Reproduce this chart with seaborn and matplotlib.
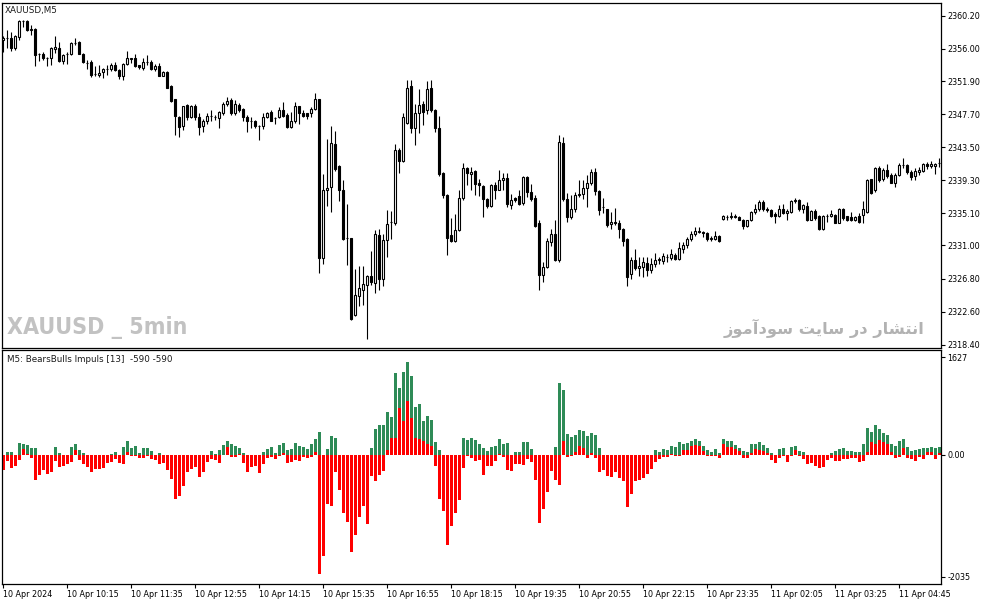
import os
import numpy as np
import pandas as pd
import matplotlib
matplotlib.use("Agg")
import matplotlib.pyplot as plt
from matplotlib import font_manager as fm
import seaborn as sns

# ---------------- data (XAUUSD M5 candles) ----------------
opens = [
 2357.2, 2357.4, 2357.4, 2356.1, 2357.5, 2359.6, 2359.6, 2358.4, 2358.6, 2355.3,
 2355.4, 2354.8, 2354.8, 2356.0, 2356.1, 2354.5, 2355.3, 2355.3, 2356.8, 2356.9,
 2355.4, 2354.2, 2354.3, 2352.8, 2352.7, 2353.1, 2353.5, 2353.4, 2353.9, 2353.3,
 2352.5, 2354.1, 2354.7, 2354.8, 2353.9, 2353.6, 2354.3, 2354.4, 2353.5, 2353.8,
 2352.6, 2353.1, 2351.3, 2349.6, 2347.4, 2346.2, 2348.9, 2347.4, 2348.7, 2347.4,
 2346.2, 2346.9, 2347.5, 2347.4, 2347.2, 2347.9, 2349.0, 2349.5, 2347.8, 2348.9,
 2348.4, 2347.4, 2346.9, 2346.9, 2346.2, 2346.2, 2347.3, 2348.0, 2347.2, 2347.3,
 2348.3, 2347.6, 2346.1, 2346.8, 2348.7, 2347.8, 2347.8, 2347.9, 2348.4, 2349.6,
 2329.4, 2338.0, 2338.4, 2343.9, 2341.1, 2338.1, 2331.9, 2331.9, 2322.2, 2324.6,
 2325.4, 2326.0, 2327.1, 2326.2, 2332.3, 2326.8, 2331.7, 2334.0, 2333.8, 2343.2,
 2341.8, 2346.6, 2351.3, 2345.9, 2347.8, 2349.0, 2348.2, 2351.0, 2348.2, 2346.0,
 2340.2, 2337.4, 2332.3, 2331.6, 2333.0, 2337.0, 2340.9, 2340.1, 2340.5, 2339.0,
 2338.6, 2336.9, 2336.0, 2338.7, 2338.1, 2339.3, 2339.6, 2336.2, 2337.1, 2337.3,
 2336.4, 2339.7, 2337.8, 2337.0, 2333.8, 2327.2, 2328.3, 2331.5, 2332.5, 2329.1,
 2344.1, 2336.9, 2334.6, 2335.6, 2337.4, 2337.5, 2338.3, 2338.9, 2340.3, 2337.9,
 2335.9, 2335.6, 2333.7, 2334.0, 2333.8, 2333.1, 2331.8, 2327.4, 2329.1, 2328.1,
 2328.3, 2328.8, 2327.9, 2328.7, 2329.2, 2329.0, 2329.6, 2329.4, 2329.8, 2329.3,
 2330.6, 2331.0, 2331.8, 2332.4, 2332.7, 2332.7, 2332.6, 2331.8, 2331.8, 2332.2,
 2334.4, 2334.6, 2334.6, 2334.8, 2334.6, 2334.3, 2333.5, 2334.2, 2335.2, 2335.6,
 2336.5, 2335.7, 2335.5, 2335.0, 2334.8, 2335.6, 2335.1, 2335.3, 2336.6, 2336.8,
 2335.6, 2336.0, 2334.3, 2335.4, 2334.8, 2333.1, 2334.7, 2334.8, 2334.9, 2333.9,
 2335.7, 2334.7, 2334.6, 2334.3, 2334.7, 2334.9, 2335.3, 2339.4, 2338.0, 2340.8,
 2339.4, 2340.6, 2340.0, 2338.9, 2340.0, 2341.2, 2341.2, 2340.4, 2339.8, 2340.4,
 2340.5, 2341.4, 2341.1, 2341.1, 2341.5]

highs = [
 2357.6, 2358.4, 2358.2, 2357.8, 2359.7, 2359.7, 2359.7, 2359.0, 2358.7, 2355.5,
 2355.6, 2355.0, 2356.2, 2357.7, 2356.9, 2355.3, 2355.6, 2356.9, 2357.4, 2357.0,
 2355.5, 2354.6, 2354.6, 2353.8, 2354.0, 2353.6, 2353.9, 2354.2, 2354.3, 2353.4,
 2354.2, 2355.8, 2354.9, 2355.3, 2354.0, 2354.8, 2355.2, 2354.6, 2354.1, 2354.2,
 2353.2, 2353.2, 2351.4, 2349.7, 2347.5, 2348.8, 2349.0, 2348.9, 2349.0, 2347.8,
 2347.1, 2347.9, 2348.2, 2347.6, 2348.1, 2349.2, 2349.9, 2349.8, 2349.5, 2349.1,
 2348.5, 2347.6, 2347.4, 2347.0, 2346.3, 2347.8, 2348.0, 2348.3, 2347.4, 2348.6,
 2349.2, 2347.8, 2348.0, 2349.2, 2348.8, 2348.2, 2347.9, 2348.6, 2350.4, 2349.7,
 2340.1, 2344.6, 2346.2, 2345.6, 2341.2, 2339.3, 2336.3, 2332.0, 2328.0, 2328.4,
 2328.4, 2327.2, 2330.3, 2333.0, 2333.1, 2332.5, 2335.5, 2335.4, 2343.9, 2343.4,
 2347.9, 2352.1, 2352.0, 2349.0, 2350.9, 2349.4, 2351.9, 2352.1, 2348.4, 2347.5,
 2340.3, 2337.6, 2334.5, 2335.0, 2338.0, 2341.5, 2341.0, 2341.0, 2340.6, 2339.5,
 2338.7, 2337.0, 2338.8, 2339.1, 2340.6, 2340.2, 2340.2, 2337.6, 2337.2, 2338.1,
 2339.8, 2339.8, 2338.8, 2337.4, 2334.3, 2328.9, 2331.9, 2333.1, 2334.2, 2345.1,
 2344.8, 2337.7, 2337.4, 2337.8, 2339.3, 2339.3, 2340.0, 2340.7, 2340.8, 2338.0,
 2337.0, 2335.7, 2335.3, 2335.8, 2334.3, 2333.2, 2332.0, 2329.6, 2330.6, 2329.5,
 2329.5, 2329.5, 2329.4, 2330.1, 2329.5, 2330.0, 2329.9, 2330.5, 2330.0, 2331.4,
 2331.5, 2332.1, 2332.9, 2333.4, 2333.4, 2332.9, 2332.7, 2332.2, 2332.8, 2332.3,
 2334.9, 2334.9, 2335.2, 2335.0, 2334.8, 2334.4, 2334.3, 2335.4, 2336.3, 2336.8,
 2336.8, 2335.9, 2335.6, 2335.3, 2336.2, 2336.3, 2335.6, 2336.8, 2337.1, 2336.9,
 2336.3, 2336.5, 2335.5, 2335.6, 2334.9, 2334.9, 2335.0, 2335.5, 2335.0, 2335.8,
 2335.8, 2334.8, 2335.2, 2334.8, 2335.1, 2336.6, 2339.4, 2339.5, 2341.0, 2341.1,
 2340.8, 2341.4, 2340.2, 2340.2, 2341.5, 2342.1, 2341.4, 2340.6, 2340.8, 2341.0,
 2341.5, 2341.6, 2341.7, 2341.5, 2342.1]

lows = [
 2355.6, 2356.1, 2355.7, 2355.9, 2357.1, 2358.8, 2358.3, 2357.8, 2353.8, 2354.5,
 2354.6, 2353.8, 2354.0, 2355.5, 2354.4, 2354.1, 2354.1, 2355.2, 2356.5, 2355.3,
 2354.2, 2353.5, 2352.4, 2352.6, 2352.4, 2352.3, 2352.7, 2353.2, 2353.2, 2352.2,
 2352.1, 2354.0, 2354.2, 2353.7, 2353.5, 2353.3, 2354.0, 2353.3, 2353.2, 2352.5,
 2352.5, 2351.0, 2349.3, 2345.1, 2344.8, 2345.7, 2347.0, 2347.2, 2347.0, 2345.1,
 2345.5, 2346.5, 2346.8, 2347.0, 2345.9, 2347.6, 2348.7, 2347.6, 2347.6, 2348.0,
 2346.9, 2345.4, 2346.0, 2346.0, 2344.4, 2345.8, 2347.2, 2346.9, 2346.5, 2347.2,
 2347.4, 2346.0, 2346.0, 2346.6, 2346.5, 2347.4, 2347.1, 2347.3, 2348.3, 2327.5,
 2328.6, 2336.0, 2335.2, 2340.5, 2336.6, 2331.7, 2328.5, 2321.5, 2322.0, 2323.3,
 2323.4, 2319.1, 2326.0, 2324.9, 2325.4, 2325.8, 2329.5, 2331.8, 2333.6, 2340.2,
 2341.6, 2346.5, 2345.3, 2343.8, 2345.3, 2346.3, 2347.7, 2348.0, 2345.5, 2339.9,
 2337.0, 2329.8, 2331.5, 2331.4, 2332.8, 2336.8, 2338.7, 2338.0, 2337.4, 2337.3,
 2334.6, 2335.8, 2335.9, 2336.9, 2338.0, 2338.1, 2335.9, 2335.6, 2336.5, 2336.2,
 2336.2, 2337.2, 2336.7, 2333.3, 2325.4, 2326.3, 2328.1, 2330.9, 2329.0, 2328.9,
 2336.7, 2334.0, 2334.4, 2335.3, 2337.2, 2336.9, 2335.9, 2338.7, 2337.4, 2334.9,
 2335.1, 2333.4, 2333.1, 2333.6, 2332.0, 2330.9, 2325.8, 2326.7, 2327.9, 2327.1,
 2327.0, 2327.1, 2327.5, 2328.3, 2328.6, 2328.7, 2328.9, 2329.2, 2329.1, 2329.1,
 2330.0, 2330.7, 2331.6, 2332.2, 2332.6, 2332.1, 2331.6, 2331.6, 2331.7, 2331.5,
 2334.3, 2334.3, 2334.4, 2334.5, 2334.2, 2333.1, 2333.4, 2334.1, 2335.0, 2335.4,
 2335.4, 2335.3, 2334.6, 2333.9, 2334.6, 2335.0, 2334.2, 2335.1, 2336.4, 2335.4,
 2335.1, 2334.1, 2334.2, 2334.3, 2333.0, 2333.0, 2334.0, 2334.6, 2333.8, 2333.8,
 2334.2, 2334.1, 2334.1, 2334.1, 2333.8, 2333.9, 2335.1, 2337.6, 2337.8, 2339.1,
 2339.2, 2339.6, 2338.9, 2338.4, 2339.9, 2340.9, 2340.1, 2339.3, 2339.3, 2340.0,
 2340.3, 2340.7, 2340.9, 2340.1, 2341.0]

closes = [
 2357.4, 2357.4, 2356.1, 2357.6, 2359.6, 2359.6, 2358.4, 2358.6, 2355.2, 2355.3,
 2354.8, 2354.8, 2356.1, 2356.2, 2354.5, 2355.2, 2355.4, 2356.8, 2356.8, 2355.4,
 2354.3, 2354.2, 2352.7, 2352.8, 2353.0, 2353.5, 2353.5, 2353.9, 2353.3, 2352.5,
 2354.1, 2354.8, 2354.8, 2353.8, 2353.7, 2354.3, 2354.3, 2353.4, 2353.8, 2352.6,
 2353.1, 2351.1, 2349.4, 2347.5, 2346.1, 2348.7, 2347.3, 2348.7, 2347.3, 2346.1,
 2346.9, 2347.5, 2347.5, 2347.4, 2348.0, 2349.0, 2349.4, 2347.8, 2349.0, 2348.3,
 2347.3, 2346.9, 2346.9, 2346.2, 2346.2, 2347.3, 2347.8, 2346.9, 2347.2, 2348.3,
 2347.5, 2346.1, 2346.9, 2348.7, 2347.8, 2347.5, 2347.5, 2348.4, 2349.7, 2329.4,
 2338.1, 2338.3, 2344.0, 2340.7, 2338.1, 2331.8, 2331.9, 2321.7, 2324.7, 2325.6,
 2326.1, 2327.1, 2326.3, 2332.5, 2326.7, 2331.7, 2333.7, 2334.0, 2343.2, 2341.7,
 2347.3, 2351.1, 2346.0, 2347.9, 2348.9, 2348.0, 2350.9, 2348.2, 2346.0, 2340.1,
 2337.4, 2331.9, 2331.6, 2333.0, 2337.0, 2340.8, 2340.2, 2340.4, 2338.8, 2338.7,
 2336.9, 2336.0, 2338.7, 2338.0, 2339.3, 2339.6, 2336.3, 2336.8, 2336.8, 2336.3,
 2339.7, 2337.8, 2336.9, 2333.5, 2327.2, 2328.3, 2331.6, 2332.5, 2329.1, 2344.2,
 2336.9, 2334.6, 2335.7, 2337.4, 2337.6, 2338.3, 2338.9, 2340.3, 2337.9, 2335.5,
 2335.9, 2333.6, 2334.0, 2333.8, 2333.1, 2331.6, 2327.0, 2329.1, 2328.1, 2328.4,
 2328.9, 2327.9, 2328.7, 2329.2, 2329.3, 2329.7, 2329.6, 2329.9, 2329.3, 2330.7,
 2331.1, 2331.8, 2332.5, 2332.8, 2332.8, 2332.6, 2331.8, 2332.0, 2332.2, 2331.6,
 2334.7, 2334.6, 2334.8, 2334.6, 2334.3, 2333.5, 2334.2, 2335.3, 2335.7, 2336.5,
 2335.6, 2335.5, 2334.8, 2334.7, 2335.7, 2335.1, 2335.4, 2336.6, 2336.8, 2335.6,
 2336.2, 2334.3, 2335.4, 2334.5, 2333.1, 2334.7, 2334.7, 2335.0, 2333.9, 2335.7,
 2334.5, 2334.3, 2334.3, 2334.6, 2334.0, 2335.7, 2339.3, 2337.7, 2340.8, 2339.3,
 2340.6, 2339.8, 2339.0, 2340.0, 2341.3, 2341.2, 2340.3, 2339.7, 2340.5, 2340.6,
 2341.4, 2341.1, 2341.4, 2341.4, 2341.5]

# ---------------- data (BearsBulls Impuls indicator) ----------------
bulls = [
 0, 56, 56, 0, 206, 183, 167, 111, 111, 0,
 0, 0, 0, 133, 33, 0, 0, 133, 183, 78,
 33, 0, 0, 0, 0, 0, 0, 22, 50, 0,
 133, 233, 122, 156, 33, 122, 122, 67, 0, 33,
 0, 0, 0, 0, 0, 0, 0, 0, 0, 0,
 0, 0, 67, 22, 83, 167, 233, 178, 150, 111,
 33, 0, 0, 0, 0, 50, 100, 133, 33, 167,
 200, 83, 100, 200, 150, 133, 100, 183, 267, 384,
 0, 100, 322, 284, 0, 0, 0, 0, 0, 0,
 0, 0, 117, 434, 500, 500, 717, 634, 1368, 1118,
 1384, 1551, 1318, 801, 851, 567, 651, 584, 217, 83,
 0, 0, 0, 0, 0, 284, 250, 284, 250, 183,
 117, 67, 133, 156, 267, 183, 200, 0, 50, 50,
 217, 217, 100, 0, 0, 0, 0, 0, 133, 1201,
 1084, 350, 300, 334, 417, 400, 317, 367, 334, 117,
 0, 0, 0, 0, 0, 0, 0, 0, 0, 0,
 0, 0, 0, 83, 50, 100, 83, 150, 133, 217,
 183, 200, 234, 267, 234, 150, 83, 50, 100, 33,
 267, 234, 234, 167, 117, 67, 50, 183, 183, 217,
 167, 117, 33, 0, 100, 117, 0, 133, 150, 67,
 50, 0, 0, 0, 0, 0, 0, 33, 67, 100,
 117, 67, 67, 50, 50, 183, 450, 384, 500, 434,
 367, 334, 183, 150, 234, 267, 133, 67, 83, 100,
 117, 117, 133, 117, 133]

bears = [
 -250, -100, -211, -178, -83, 100, 10, -44, -417, -334,
 -250, -311, -283, -100, -200, -178, -156, -111, 78, -83,
 -145, -200, -283, -233, -233, -211, -128, -111, -61, -139,
 -145, 44, -10, -17, -44, -44, -17, -67, -78, -145,
 -128, -250, -395, -728, -678, -511, -283, -228, -195, -361,
 -283, -111, -67, -83, -128, 5, 139, -28, -28, 22,
 -128, -278, -195, -178, -295, -145, -44, -28, -61, -17,
 39, -128, -111, -78, -95, -28, -44, -28, 50, -1979,
 -1679, -812, -845, -284, -578, -962, -1112, -1612, -1329, -1029,
 -845, -1145, -345, -428, -328, -261, 83, 284, 284, 784,
 567, 901, 617, 284, 267, 234, 183, 150, -178, -734,
 -928, -1496, -1179, -962, -745, -211, -17, -44, -95, -78,
 -328, -178, -178, -95, 22, -28, -245, -261, -145, -145,
 -161, -61, -111, -411, -1129, -895, -612, -261, -411, -495,
 234, -28, -11, 50, 150, 117, -44, 33, -44, -278,
 -245, -345, -361, -278, -378, -428, -862, -645, -428, -411,
 -378, -311, -228, -111, -61, -28, -28, 22, -11, -11,
 83, 83, 150, 167, 150, 67, -11, -11, -11, -44,
 183, 139, 133, 100, 67, -44, -44, 33, 100, 83,
 67, 33, -83, -128, -44, -11, -111, -11, 83, -11,
 -61, -145, -128, -178, -211, -195, -83, -44, -95, -95,
 -61, -61, -44, -44, -111, -95, 56, 217, 183, 250,
 217, 183, 50, -44, -28, 117, -44, -61, -95, -28,
 -61, 50, 50, -61, 33]

time_labels = ["10 Apr 2024", "10 Apr 10:15", "10 Apr 11:35", "10 Apr 12:55",
               "10 Apr 14:15", "10 Apr 15:35", "10 Apr 16:55", "10 Apr 18:15",
               "10 Apr 19:35", "10 Apr 20:55", "10 Apr 22:15", "10 Apr 23:35",
               "11 Apr 02:05", "11 Apr 03:25", "11 Apr 04:45"]
label_step = 16

price_ticks = [2360.20, 2356.00, 2351.90, 2347.70, 2343.50, 2339.30,
               2335.10, 2331.00, 2326.80, 2322.60, 2318.40]
ind_ticks = [1627, 0, -2035]
ind_tick_labels = ["1627", "0.00", "-2035"]

# ---------------- style ----------------
sns.set_theme(style="white")
plt.rcParams['font.family'] = ['DejaVu Sans']
plt.rcParams['axes.edgecolor'] = 'black'

W, H = 987, 605
fig = plt.figure(figsize=(W / 100, H / 100), dpi=100)
fig.patch.set_facecolor('white')

ax1 = fig.add_axes([2 / W, 1 - 348 / H, 939 / W, 345 / H])
ax2 = fig.add_axes([2 / W, 1 - 584 / H, 939 / W, 233.7 / H], sharex=ax1)

n = len(closes)
df = pd.DataFrame({"i": np.arange(n), "o": opens, "h": highs, "l": lows,
                   "c": closes, "bull": bulls, "bear": bears})

# ---------------- candles ----------------
up = df["c"] >= df["o"]
body_bottom = np.minimum(df["o"], df["c"])
body_h = (df["c"] - df["o"]).abs()
ax1.vlines(df["i"], df["l"], df["h"], color="black", linewidth=0.8, zorder=2)
ax1.bar(df["i"], body_h, bottom=body_bottom, width=0.55,
        color=np.where(up, "white", "black"), edgecolor="black",
        linewidth=0.8, zorder=3)
ax1.set_ylim(2317.96, 2361.85)

# ---------------- indicator ----------------
sns.barplot(data=df, x="i", y="bull", native_scale=True, color="#2E8B57",
            width=0.75, errorbar=None, saturation=1, linewidth=0, ax=ax2)
sns.barplot(data=df, x="i", y="bear", native_scale=True, color="#FF0000",
            width=0.75, errorbar=None, saturation=1, linewidth=0, ax=ax2)
ax2.set_ylim(-2152, 1746)
ax2.set_xlim(-0.25, 234.4)
ax2.set_xlabel("")
ax2.set_ylabel("")

# ---------------- axes styling ----------------
for ax in (ax1, ax2):
    for sp in ax.spines.values():
        sp.set_visible(True)
        sp.set_color("black")
        sp.set_linewidth(0.9)
    ax.yaxis.tick_right()
    ax.grid(False)
    ax.set_facecolor("white")

ax1.tick_params(axis="x", bottom=False, labelbottom=False)
ax1.set_yticks(price_ticks)
ax1.set_yticklabels([f"{v:.2f}" for v in price_ticks])
ax1.tick_params(axis="y", right=True, left=False, length=3, width=0.8,
                direction="out", pad=1.5, labelsize=5.8, colors="black")

ax2.set_yticks(ind_ticks)
ax2.set_yticklabels(ind_tick_labels)
ax2.tick_params(axis="y", right=True, left=False, length=3, width=0.8,
                direction="out", pad=1.5, labelsize=5.8, colors="black")

xt = list(range(0, n, label_step))[:len(time_labels)]
ax2.set_xticks(xt)
ax2.set_xticklabels(time_labels, ha="left")
ax2.tick_params(axis="x", bottom=True, length=3, width=0.8, direction="out",
                pad=1.5, labelsize=5.8, colors="black")

# ---------------- texts ----------------
fig.text(5 / W, 1 - 10.5 / H, "XAUUSD,M5", fontsize=6.3, color="#1a1a1a",
         va="center", ha="left")
fig.text(7 / W, 1 - 359.5 / H, "M5: BearsBulls Impuls [13]  -590 -590",
         fontsize=6.3, color="#1a1a1a", va="center", ha="left")

# pick a narrow/condensed bold font for the watermark if one is installed
wm_file = None
pref = []
for f in fm.fontManager.ttflist:
    fn = os.path.basename(f.fname).lower()
    if ("narrow" in fn or "condensed" in fn) and "bold" in fn \
            and "italic" not in fn and "oblique" not in fn:
        rank = 0 if "liberation" in fn else (1 if "dejavu" in fn else 2)
        pref.append((rank, f.fname))
if pref:
    pref.sort()
    wm_file = pref[0][1]
if wm_file:
    wm_prop = fm.FontProperties(fname=wm_file, size=22)
else:
    wm_prop = fm.FontProperties(family="DejaVu Sans", weight="bold", size=22)

wm = fig.text(7 / W, 1 - 328 / H, "XAUUSD _ 5min", fontproperties=wm_prop,
              color="#c2c2c2", va="center", ha="left")

persian = ("\ufeaf\ufeee\ufee3\ufe81\ufea9\ufeee\ufeb3 "
           "\ufe96\ufef3\ufe8e\ufeb3 \ufead\ufea9 "
           "\ufead\ufe8e\ufeb8\ufe98\ufee7\ufe8d")
pt = fig.text(925 / W, 1 - 328 / H, persian, fontsize=13, family="DejaVu Sans",
              fontweight="bold", color="#b2b2b2", va="center", ha="right")

# fit watermark widths to the reference extents
fig.canvas.draw()
rend = fig.canvas.get_renderer()
for txt, target in ((wm, 180.0), (pt, 199.0)):
    w = txt.get_window_extent(rend).width
    if w > 0:
        txt.set_fontsize(txt.get_fontsize() * target / w)

fig.savefig("out.png", dpi=100, facecolor="white")
